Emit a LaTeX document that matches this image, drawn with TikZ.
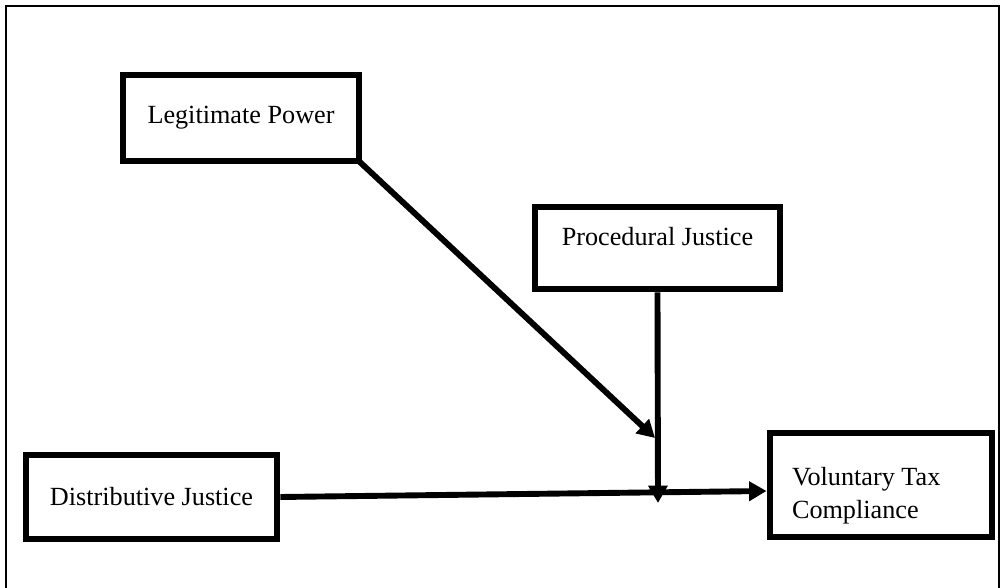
\documentclass[tikz,border=0pt]{standalone}
\usepackage{fontspec}
\setmainfont{Liberation Serif}
\usepackage{tikz}
\usetikzlibrary{arrows.meta, positioning, calc}
\tikzset{
  box/.style={rectangle, draw=black, line width=3.1pt, fill=white, text=black,
              align=center, font=\fontsize{12}{15}\selectfont},
  flow/.style={-{Triangle[length=8pt, width=8.6pt]}, draw=black, line width=2.7pt},
  frame/.style={draw=black, line width=1pt}
}
\begin{document}
\begin{tikzpicture}[x=0.458pt, y=-0.458pt]
  \useasboundingbox (0,0) rectangle (1001,588);
  \clip (0,0) rectangle (1001,588);
  \draw[frame] (6,620) -- (6,6) -- (999,6) -- (999,620);
  \node[box, minimum width=108.1pt, minimum height=39.4pt] (lp) at (241,118) {Legitimate Power};
  \node[box, minimum width=112.2pt, minimum height=37.6pt, text height=9pt, text depth=11pt] (pj) at (657.5,248) {Procedural Justice};
  \node[box, minimum width=115pt, minimum height=38.5pt] (dj) at (151.5,497) {Distributive Justice};
  \node[box, minimum width=101.7pt, minimum height=47.6pt, align=flush left, text width=81.5pt, text height=18pt] (vtc) at (881,485) {Voluntary Tax\\Compliance};
  \coordinate (lpend) at (655,438);
  \coordinate (pjend) at (658,503);
  \draw[flow] (dj.east) -- (vtc.183.6);
  \draw[flow] (pj.south) -- (pjend);
  \draw[flow, shorten <=-2pt] (lp.south east) -- (lpend);
\end{tikzpicture}
\end{document}
